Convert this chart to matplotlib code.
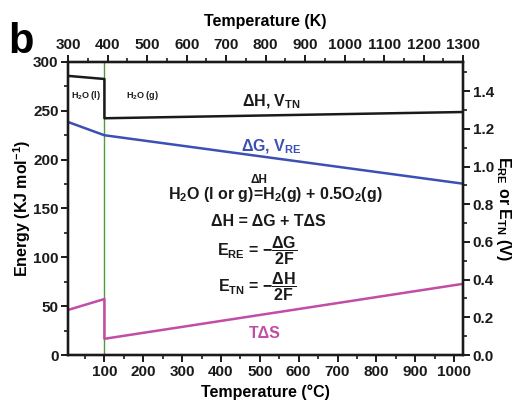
import matplotlib.pyplot as plt
from matplotlib.ticker import MultipleLocator

plt.rcParams['font.family'] = ['Liberation Sans', 'DejaVu Sans']
plt.rcParams['font.weight'] = 'bold'
plt.rcParams['mathtext.fontset'] = 'custom'
plt.rcParams['mathtext.rm'] = 'Liberation Sans:bold'
plt.rcParams['mathtext.it'] = 'Liberation Sans:bold'
plt.rcParams['mathtext.bf'] = 'Liberation Sans:bold'

# data (temperature in degC, energy in kJ/mol)
t_liq = [0, 100]
t_gas = [100, 1025]
dH_liq = [286.0, 282.6]
dH_gas = [242.4, 248.8]
dG_liq = [239.5, 225.0]
dG_gas = [225.0, 175.3]
TdS_liq = [45.4, 57.3]
TdS_gas = [16.6, 73.0]

k_ticks = list(range(300, 1301, 100))
c_ticks = list(range(100, 1001, 100))

black = '#1a1a1a'
blue = '#3c4fb4'
magenta = '#c24ca6'
green = '#4f9a3c'

fig = plt.figure(figsize=(5.22, 4.01), dpi=100)
ax = fig.add_axes([0.1308, 0.1147, 0.7562, 0.7307])

# join the liquid and gas parts with the vertical drop at 100 C
ax.plot(t_liq + t_gas, dH_liq + dH_gas, color=black, lw=1.8)
ax.plot(t_liq + t_gas, dG_liq + dG_gas, color=blue, lw=1.8)
ax.plot(t_liq + t_gas, TdS_liq + TdS_gas, color=magenta, lw=1.8)
ax.axvline(100, color=green, lw=1.0, zorder=1)

ax.set_xlim(7, 1023)
ax.set_ylim(0, 300)
ax.set_xticks(c_ticks)
ax.xaxis.set_minor_locator(MultipleLocator(50))
ax.yaxis.set_major_locator(MultipleLocator(50))
ax.yaxis.set_minor_locator(MultipleLocator(25))
ax.set_xlabel('Temperature (°C)', fontsize=11.5, fontweight='bold', labelpad=4)
ax.set_ylabel('Energy (KJ mol$^{-1}$)', fontsize=11.5, fontweight='bold', labelpad=0)

# top axis in Kelvin
axt = ax.twiny()
axt.set_xlim(300, 1300)
axt.set_xticks(k_ticks)
axt.xaxis.set_minor_locator(MultipleLocator(50))
axt.set_xlabel('Temperature (K)', fontsize=11.5, fontweight='bold', labelpad=9)

# right axis in volts (E = energy / 2F)
axr = ax.twinx()
axr.set_ylim(0, 300 / (2 * 96.485))
axr.yaxis.set_major_locator(MultipleLocator(0.2))
axr.yaxis.set_minor_locator(MultipleLocator(0.1))
axr.yaxis.set_major_formatter(plt.FormatStrFormatter('%.1f'))
axr.set_ylabel('E$_{RE}$ or E$_{TN}$ (V)', fontsize=11.5, fontweight='bold',
               rotation=270, labelpad=14)

for a in (ax, axt, axr):
    for s in a.spines.values():
        s.set_linewidth(1.6)
        s.set_color(black)
    a.tick_params(which='major', direction='out', length=5, width=1.4,
                  labelsize=11, pad=2, colors=black)
    a.tick_params(which='minor', direction='out', length=3, width=1.2, colors=black)
    for lab in a.get_xticklabels() + a.get_yticklabels():
        lab.set_fontweight('bold')

# annotations
ax.text(52, 266, 'H$_2$O (l)', fontsize=6.5, ha='center', va='center', color=black)
ax.text(197, 266, 'H$_2$O (g)', fontsize=6.5, ha='center', va='center', color=black)
ax.text(530, 259, 'ΔH, V$_{TN}$', fontsize=11.5, ha='center', va='center', color=black)
ax.text(530, 213, 'ΔG, V$_{RE}$', fontsize=11.5, ha='center', va='center', color=blue)
ax.text(539, 164, 'H$_2$O (l or g)=H$_2$(g) + 0.5O$_2$(g)', fontsize=11.5,
        ha='center', va='center', color=black)
ax.text(498, 179, 'ΔH', fontsize=8.5, ha='center', va='center', color=black)
ax.text(521, 136.5, 'ΔH = ΔG + TΔS', fontsize=11.5, ha='center', va='center', color=black)
ax.text(494, 107.5, r'E$_{RE}$ = $-\dfrac{\Delta G}{2F}$', fontsize=11.5,
        ha='center', va='center', color=black)
ax.text(494, 70, r'E$_{TN}$ = $-\dfrac{\Delta H}{2F}$', fontsize=11.5,
        ha='center', va='center', color=black)
ax.text(513, 22, 'TΔS', fontsize=11.5, ha='center', va='center', color=magenta)

fig.text(0.04, 0.895, 'b', fontsize=30, fontweight='bold', ha='center', va='center')

fig.savefig('out.png', dpi=100)
